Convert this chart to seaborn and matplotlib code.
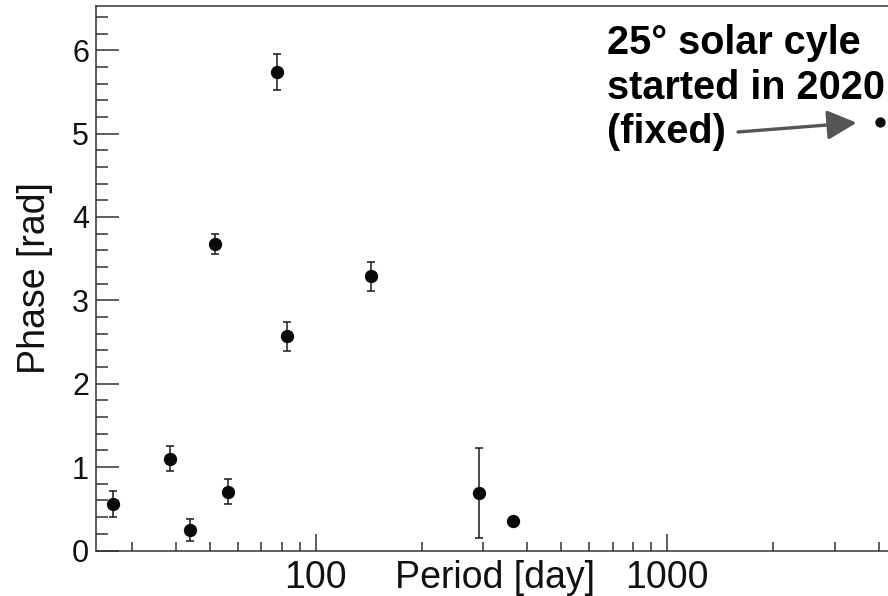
import numpy as np
import pandas as pd
import matplotlib
matplotlib.use("Agg")
import matplotlib.pyplot as plt
import matplotlib.ticker as mticker
import seaborn as sns

# ---- data ----
periods = [26.5, 38.4, 43.9, 51.8, 56.4, 77.4, 82.7, 143.3, 290.8, 363.0, 4018.0]
phases = [0.559, 1.10, 0.246, 3.68, 0.707, 5.737, 2.57, 3.29, 0.69, 0.354, 5.14]
phase_err = [0.154, 0.15, 0.128, 0.12, 0.146, 0.216, 0.172, 0.172, 0.54, 0.0, 0.0]
xtick_values = [100, 1000]
xtick_labels = ["100", "1000"]
ytick_values = [0, 1, 2, 3, 4, 5, 6]
annot_text = "25° solar cyle\nstarted in 2020\n(fixed)"

df = pd.DataFrame({"period": periods, "phase": phases, "err": phase_err})

sns.set_style("ticks")
plt.rcParams["font.family"] = ["Liberation Sans", "DejaVu Sans"]

W, H = 888, 596
fig = plt.figure(figsize=(W / 100, H / 100), dpi=100)
# axes in pixel geometry: left 96, right 920 (off-figure), top 6, bottom 550.5
ax = fig.add_axes([96 / W, (H - 550.5) / H, (920 - 96) / W, (550.5 - 6) / H])

ax.set_xscale("log")
ax.set_xlim(23.72, 5233)
ax.set_ylim(0, 6.53)

# error bars (only where present)
main = df[df["err"] > 0]
ax.errorbar(main["period"], main["phase"], yerr=main["err"], fmt="none",
            ecolor="#1a1a1a", elinewidth=1.1, capsize=3.2, capthick=1.1, zorder=2)

sns.scatterplot(data=df.iloc[:-1], x="period", y="phase", ax=ax, s=92,
                color="#0a0a0a", edgecolor="#0a0a0a", linewidth=0, zorder=3, legend=False)
sns.scatterplot(data=df.iloc[-1:], x="period", y="phase", ax=ax, s=55,
                color="#0a0a0a", edgecolor="#0a0a0a", linewidth=0, zorder=3, legend=False)

# ticks
ax.xaxis.set_major_locator(mticker.FixedLocator(xtick_values))
ax.xaxis.set_major_formatter(mticker.FixedFormatter(xtick_labels))
ax.xaxis.set_minor_locator(mticker.LogLocator(base=10, subs=np.arange(2, 10)))
ax.xaxis.set_minor_formatter(mticker.NullFormatter())
ax.yaxis.set_major_locator(mticker.FixedLocator(ytick_values))
ax.yaxis.set_minor_locator(mticker.MultipleLocator(0.2))

ax.tick_params(axis="x", which="major", direction="in", length=12.5, width=1.1,
               color="#333333", labelsize=27, pad=6.5, labelcolor="#111111")
ax.tick_params(axis="x", which="minor", direction="in", length=6.5, width=1.1, color="#333333")
ax.tick_params(axis="y", which="major", direction="in", length=16.5, width=1.1,
               color="#333333", labelsize=22, pad=5, labelcolor="#111111")
ax.tick_params(axis="y", which="minor", direction="in", length=8.5, width=1.1, color="#333333")

for s in ax.spines.values():
    s.set_color("#333333")
    s.set_linewidth(1.1)

ax.set_xlabel("Period [day]", fontsize=27, color="#111111")
ax.xaxis.set_label_coords(494.5 / W, (H - 588) / H, transform=fig.transFigure)
ax.xaxis.label.set_verticalalignment("baseline")

ax.set_ylabel("Phase [rad]", fontsize=27, color="#111111")
ax.yaxis.set_label_coords(53 / W, (H - 278) / H, transform=fig.transFigure)

# annotation
fig.text(607 / W, 1 - 24 / H, annot_text, fontsize=28.5, fontweight="bold",
         ha="left", va="top", linespacing=1.22, color="#000000")
ax.annotate("", xy=(856.7 / W, 1 - 122.7 / H), xycoords=fig.transFigure,
            xytext=(738 / W, 1 - 132 / H), textcoords=fig.transFigure,
            arrowprops=dict(arrowstyle="-|>,head_length=1.0,head_width=0.5",
                            color="#555555", lw=2.4, mutation_scale=18,
                            shrinkA=0, shrinkB=0))

fig.savefig("out.png", dpi=100)
